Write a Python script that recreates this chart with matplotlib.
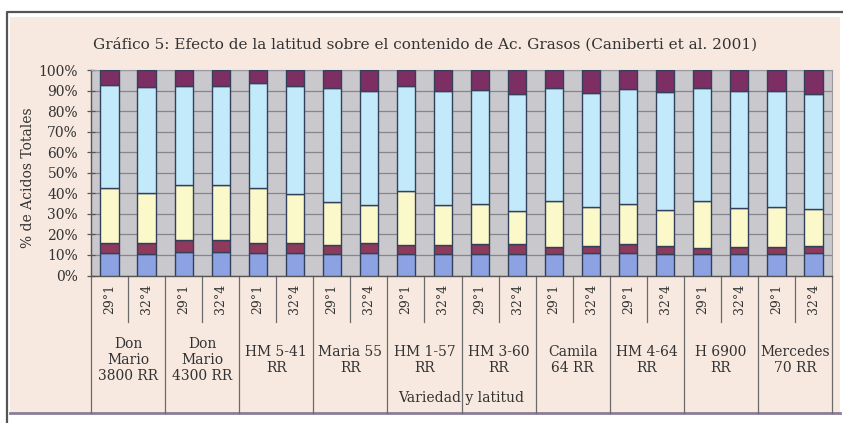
import matplotlib
matplotlib.use("Agg")
import matplotlib.pyplot as plt
from matplotlib.patches import Rectangle
from matplotlib.lines import Line2D
from matplotlib.transforms import blended_transform_factory
import numpy as np

# ---- data -------------------------------------------------------------
varieties = ["Don\nMario\n3800 RR", "Don\nMario\n4300 RR", "HM 5-41\nRR", "Maria 55\nRR",
             "HM 1-57\nRR", "HM 3-60\nRR", "Camila\n64 RR", "HM 4-64\nRR",
             "H 6900\nRR", "Mercedes\n70 RR"]
latitudes = ["29°1", "32°4"]

# share of each fatty-acid fraction (%) per variety/latitude, bottom to top
seg_blue = [10.8, 10.6, 11.3, 11.3, 10.8, 10.8, 10.6, 10.8, 10.3, 10.6,
            10.7, 10.7, 10.3, 10.8, 10.8, 10.6, 10.3, 10.6, 10.6, 10.8]
seg_maroon = [4.9, 5.1, 6.0, 6.0, 4.9, 4.9, 4.2, 4.9, 4.5, 4.2,
              4.5, 4.5, 3.7, 3.7, 4.4, 3.9, 3.2, 3.4, 3.4, 3.7]
seg_yellow = [26.7, 24.3, 26.7, 26.7, 26.7, 23.8, 21.1, 18.6, 26.3, 19.5,
              19.4, 16.2, 22.3, 19.0, 19.4, 17.4, 22.8, 19.0, 19.5, 17.9]
seg_cyan = [50.3, 51.9, 48.4, 48.4, 51.2, 52.9, 55.2, 55.5, 51.3, 55.5,
            55.7, 56.8, 54.8, 55.2, 56.1, 57.2, 54.8, 56.8, 56.3, 55.8]
seg_purple = [7.3, 8.1, 7.6, 7.6, 6.4, 7.6, 8.9, 10.2, 7.6, 10.2,
              9.7, 11.8, 8.9, 11.3, 9.3, 10.9, 8.9, 10.2, 10.2, 11.8]

y_ticks = [0, 10, 20, 30, 40, 50, 60, 70, 80, 90, 100]

title = "Gráfico 5: Efecto de la latitud sobre el contenido de Ac. Grasos (Caniberti et al. 2001)"
y_title = "% de Acidos Totales"
x_title = "Variedad y latitud"

# ---- figure -----------------------------------------------------------
W, H = 843, 423
fig = plt.figure(figsize=(W / 100, H / 100), dpi=100, facecolor="white")
FONT = "DejaVu Serif"
TXT = "#333333"


def fx(px):
    return px / W


def fy(py):
    return 1 - py / H


# outer frame and chart area
fig.patches.append(Rectangle((fx(10), fy(413)), fx(840) - fx(10), fy(17) - fy(413),
                             transform=fig.transFigure, facecolor="#f7e9df",
                             edgecolor="none", zorder=-10))
fig.lines.append(Line2D([fx(10), fx(840)], [fy(413), fy(413)], transform=fig.transFigure,
                        color="#8a7f99", lw=2, zorder=-5))
fig.lines.append(Line2D([fx(7), fx(7), fx(843)], [fy(423), fy(12.5), fy(12.5)],
                        transform=fig.transFigure, color="#555555", lw=1.6, zorder=-5))

# plot area
L, R, T, B = 91, 832, 70, 275.5
ax = fig.add_axes([fx(L), fy(B), fx(R) - fx(L), fy(T) - fy(B)])
ax.set_zorder(1)
ax.set_facecolor("#c9c9cd")
ax.set_xlim(-0.5, 19.5)
ax.set_ylim(0, 100)

x = np.arange(len(seg_blue))
colors = ["#8ca2e2", "#8e3a5c", "#fbf8c9", "#c3eafb", "#7d2e63"]
bottom = np.zeros(len(x))
for seg, col in zip([seg_blue, seg_maroon, seg_yellow, seg_cyan, seg_purple], colors):
    ax.bar(x, seg, bottom=bottom, width=0.49, color=col, edgecolor="#34405a",
           linewidth=1.0, zorder=3)
    bottom += np.array(seg)

ax.set_yticks(y_ticks)
ax.set_yticklabels([f"{v}%" for v in y_ticks], fontfamily=FONT, fontsize=10, color=TXT)
ax.yaxis.grid(True, color="#85858c", linewidth=0.9, zorder=1)
ax.set_axisbelow(True)
ax.tick_params(axis="y", direction="inout", length=6, width=0.9, color="#555555", pad=6.3)
ax.set_xticks([])
for s in ["top", "right"]:
    ax.spines[s].set_color("#9a9aa0")
    ax.spines[s].set_linewidth(0.8)
for s in ["left", "bottom"]:
    ax.spines[s].set_color("#555555")
    ax.spines[s].set_linewidth(1.0)

# chart title, centred over the whole chart area
fig.text(fx(425), fy(44), title, ha="center", va="center", fontfamily=FONT,
         fontsize=11, color=TXT)

# category axis: two label levels below the plot
tr = blended_transform_factory(ax.transData, ax.transAxes)


def ay(py):
    return (B - py) / (B - T)


n_groups = len(varieties)
for g in range(n_groups + 1):
    ax.add_line(Line2D([2 * g - 0.5] * 2, [0, ay(413)], transform=tr, color="#6a6a6a",
                       lw=0.9, clip_on=False))
for g in range(n_groups):
    ax.add_line(Line2D([2 * g + 0.5] * 2, [0, ay(322)], transform=tr, color="#6a6a6a",
                       lw=0.9, clip_on=False))
    for k, lat in enumerate(latitudes):
        ax.text(2 * g + k, ay(299), lat, transform=tr, rotation=90, ha="center",
                va="center", fontfamily=FONT, fontsize=9, color=TXT)
    ax.text(2 * g + 0.5, ay(360), varieties[g], transform=tr, ha="center", va="center",
            multialignment="center", linespacing=1.22, fontfamily=FONT,
            fontsize=10, color=TXT)

ax.text(9.5, ay(398), x_title, transform=tr, ha="center", va="center",
        fontfamily=FONT, fontsize=10, color=TXT)

fig.text(fx(28), fy(178), y_title, rotation=90, ha="center", va="center",
         fontfamily=FONT, fontsize=10, color=TXT)

fig.savefig("out.png", dpi=100, facecolor="white")
